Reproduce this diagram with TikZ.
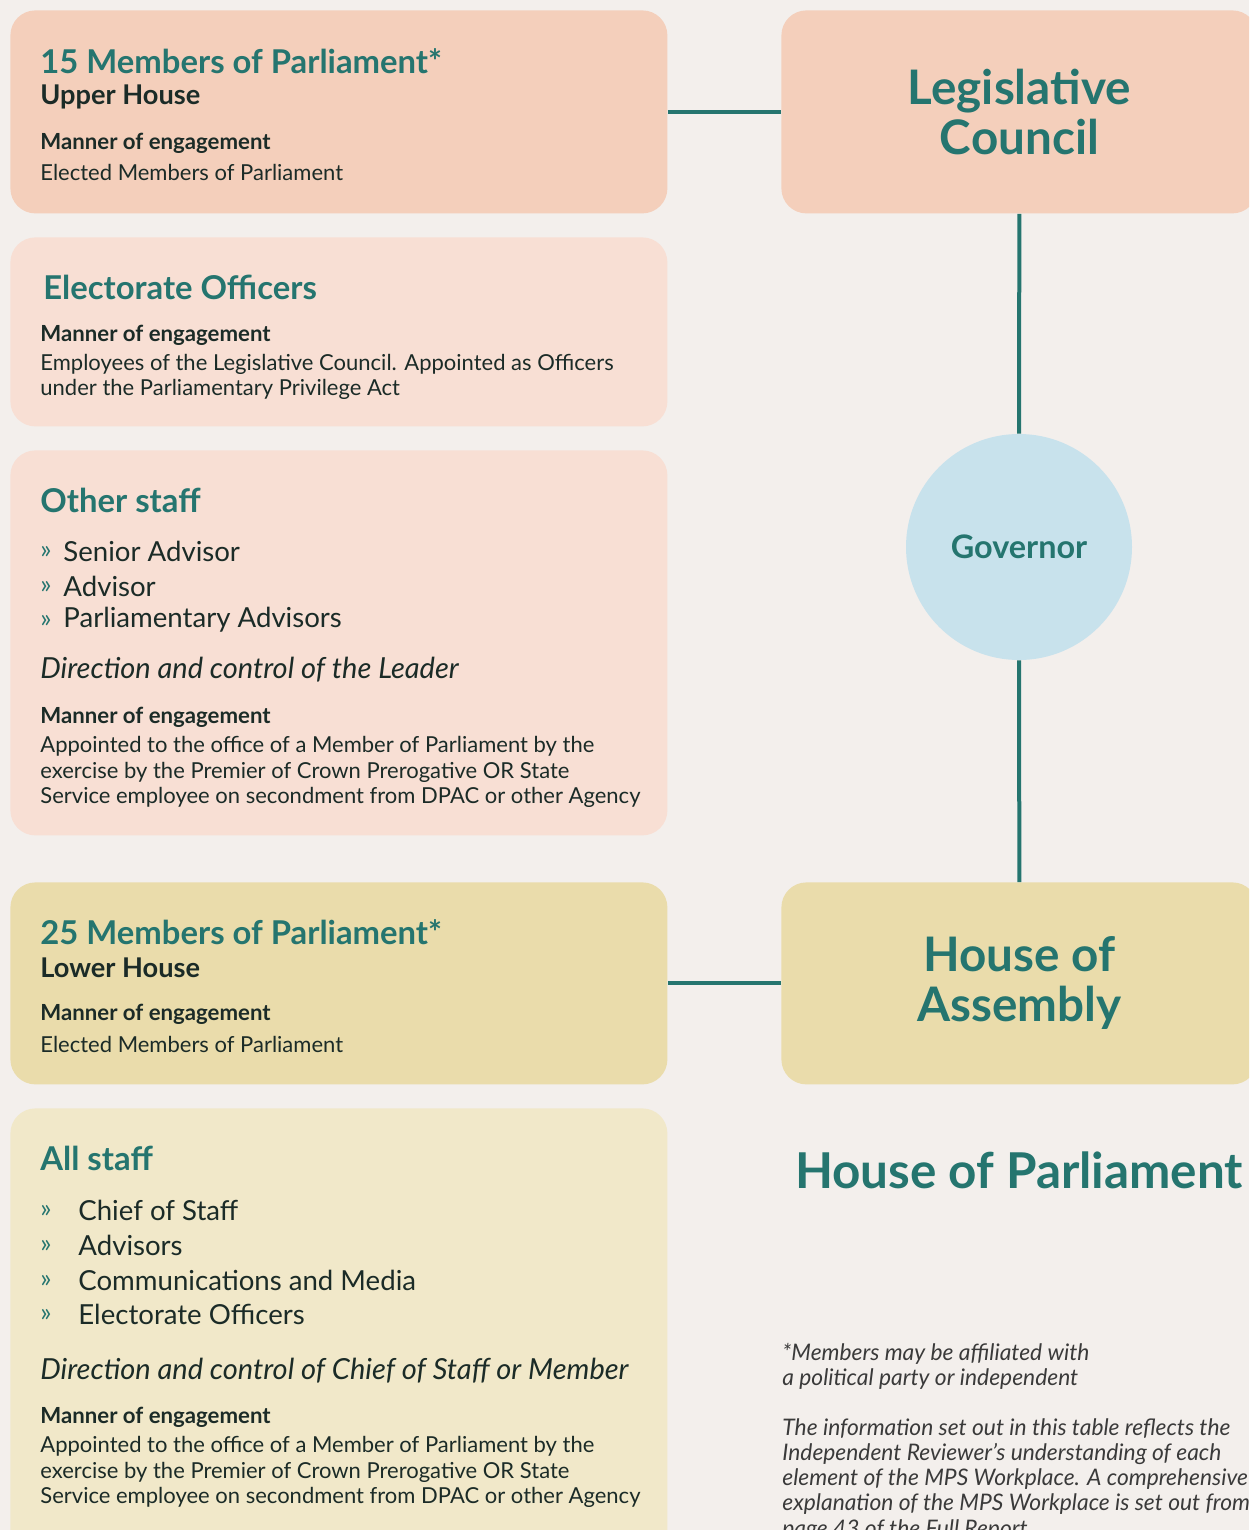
\documentclass[tikz,border=0pt]{standalone}
\usepackage{fontspec}
\setmainfont{Lato}
\usepackage{xcolor}
\usetikzlibrary{positioning}

\definecolor{bg}{HTML}{F3EFEC}
\definecolor{peach}{HTML}{F4CFBB}
\definecolor{blush}{HTML}{F8DFD4}
\definecolor{sand}{HTML}{EADCAB}
\definecolor{cream}{HTML}{F1E8C9}
\definecolor{sky}{HTML}{C8E2EC}
\definecolor{teal}{HTML}{25756F}
\definecolor{ink}{HTML}{1B2B27}
\definecolor{notegray}{HTML}{3A3A3A}

\tikzset{
  box/.style={fill=#1, rounded corners=12.5pt, anchor=north west, inner sep=0pt},
  link/.style={draw=teal, line width=2pt},
  txt/.style={anchor=west, inner sep=0pt, text=ink, align=left},
  head/.style={txt, text=teal, font=\bfseries\fontsize{16.4}{19}\selectfont},
  sub/.style={txt, font=\bfseries\fontsize{13.6}{16}\selectfont},
  mhead/.style={txt, font=\bfseries\fontsize{11.1}{12.75}\selectfont},
  body/.style={txt, font=\fontsize{11}{12.75}\selectfont},
  item/.style={txt, font=\fontsize{13.8}{17.5}\selectfont},
  chevron/.style={txt, text=teal, font=\fontsize{13}{15}\selectfont},
  ital/.style={txt, font=\itshape\fontsize{14.5}{17}\selectfont},
  big/.style={text=teal, align=center, font=\bfseries\fontsize{23.8}{25}\selectfont},
  footnote/.style={txt, text=notegray, font=\itshape\fontsize{11.4}{12.6}\selectfont}
}

\begin{document}
\begin{tikzpicture}[x=0.5pt,y=-0.5pt]
        \clip (0,0) rectangle (1249,1530);
        \fill[bg] (0,0) rectangle (1249,1530);

        % boxes
        \node[box=peach, minimum width=328.5pt, minimum height=101.5pt](upper) at (10,10) {};
        \node[box=peach, minimum width=238pt, minimum height=101.5pt, big](lc) at (781,10) {Legislative\\Council};
        \node[box=blush, minimum width=328.5pt, minimum height=94.5pt](eo) at (10,237) {};
        \node[box=blush, minimum width=328.5pt, minimum height=192.5pt](os) at (10,450) {};
        \node[circle, fill=sky, minimum size=113pt, inner sep=0pt, text=teal, font=\bfseries\fontsize{16.2}{19}\selectfont](gov) at (1019,547) {Governor};
        \node[box=sand, minimum width=328.5pt, minimum height=101pt](lower) at (10,882) {};
        \node[box=sand, minimum width=238pt, minimum height=101pt, big](hoa) at (781,882) {House of\\Assembly};
        \node[box=cream, minimum width=328.5pt, minimum height=225pt](all) at (10,1108) {};

        \draw[link](upper)--(lc);
        \draw[link](lc)--(gov);
        \draw[link](gov)--(hoa);
        \draw[link](lower)--(hoa);

        % upper house
        \node[head](t1) at (40,61) {15 Members of Parliament*};
        \node[sub](u1) at (40,97) {Upper House};
        \node[mhead](m1) at (40,143) {Manner of engagement};
        \node[body](b1) at (40,172) {Elected Members of Parliament};

        % electorate officers
        \node[head](t2) at (43,287) {Electorate Officers};
        \node[mhead](m2) at (40,335) {Manner of engagement};
        \node[body](b2) at (40,377) {Employees of the Legislative Council. Appointed as Officers\\under the Parliamentary Privilege Act};

        % other staff
        \node[head](t3) at (40,500) {Other staff};
        \node[chevron](d1) at (40,552) {»};
        \node[item](s1) at (63,551) {Senior Advisor};
        \node[chevron](d2) at (40,587) {»};
        \node[item](s2) at (63,586) {Advisor};
        \node[chevron](d3) at (40,621) {»};
        \node[item](s3) at (63,620) {Parliamentary Advisors};
        \node[ital](i3) at (40,670) {Direction and control of the Leader};
        \node[mhead](m3) at (40,717) {Manner of engagement};
        \node[body](b3) at (40,772) {Appointed to the office of a Member of Parliament by the\\exercise by the Premier of Crown Prerogative OR State\\Service employee on secondment from DPAC or other Agency};

        % lower house
        \node[head](t4) at (40,932) {25 Members of Parliament*};
        \node[sub](u4) at (40,968) {Lower House};
        \node[mhead](m4) at (40,1014) {Manner of engagement};
        \node[body](b4) at (40,1044) {Elected Members of Parliament};

        % all staff
        \node[head](t5) at (40,1158) {All staff};
        \node[chevron](e1) at (40,1211) {»};
        \node[item](a1) at (78,1210) {Chief of Staff};
        \node[chevron](e2) at (40,1246) {»};
        \node[item](a2) at (78,1245) {Advisors};
        \node[chevron](e3) at (40,1281) {»};
        \node[item](a3) at (78,1280) {Communications and Media};
        \node[chevron](e4) at (40,1315) {»};
        \node[item](a4) at (78,1314) {Electorate Officers};
        \node[ital](i5) at (40,1371) {Direction and control of Chief of Staff or Member};
        \node[mhead](m5) at (40,1417) {Manner of engagement};
        \node[body](b5) at (40,1472) {Appointed to the office of a Member of Parliament by the\\exercise by the Premier of Crown Prerogative OR State\\Service employee on secondment from DPAC or other Agency};

        % right column
        \node[big, font=\bfseries\fontsize{24.7}{27}\selectfont](hop) at (1019,1170) {House of Parliament};
        \node[footnote](n1) at (782,1366) {*Members may be affiliated with\\a political party or independent};
        \node[footnote, anchor=north west](n2) at (782,1418) {The information set out in this table  reflects the\\Independent Reviewer's understanding of each\\element of the MPS Workplace. A comprehensive\\explanation of the MPS Workplace is set out from\\page 43 of the Full Report};
        \end{tikzpicture}
\end{document}
